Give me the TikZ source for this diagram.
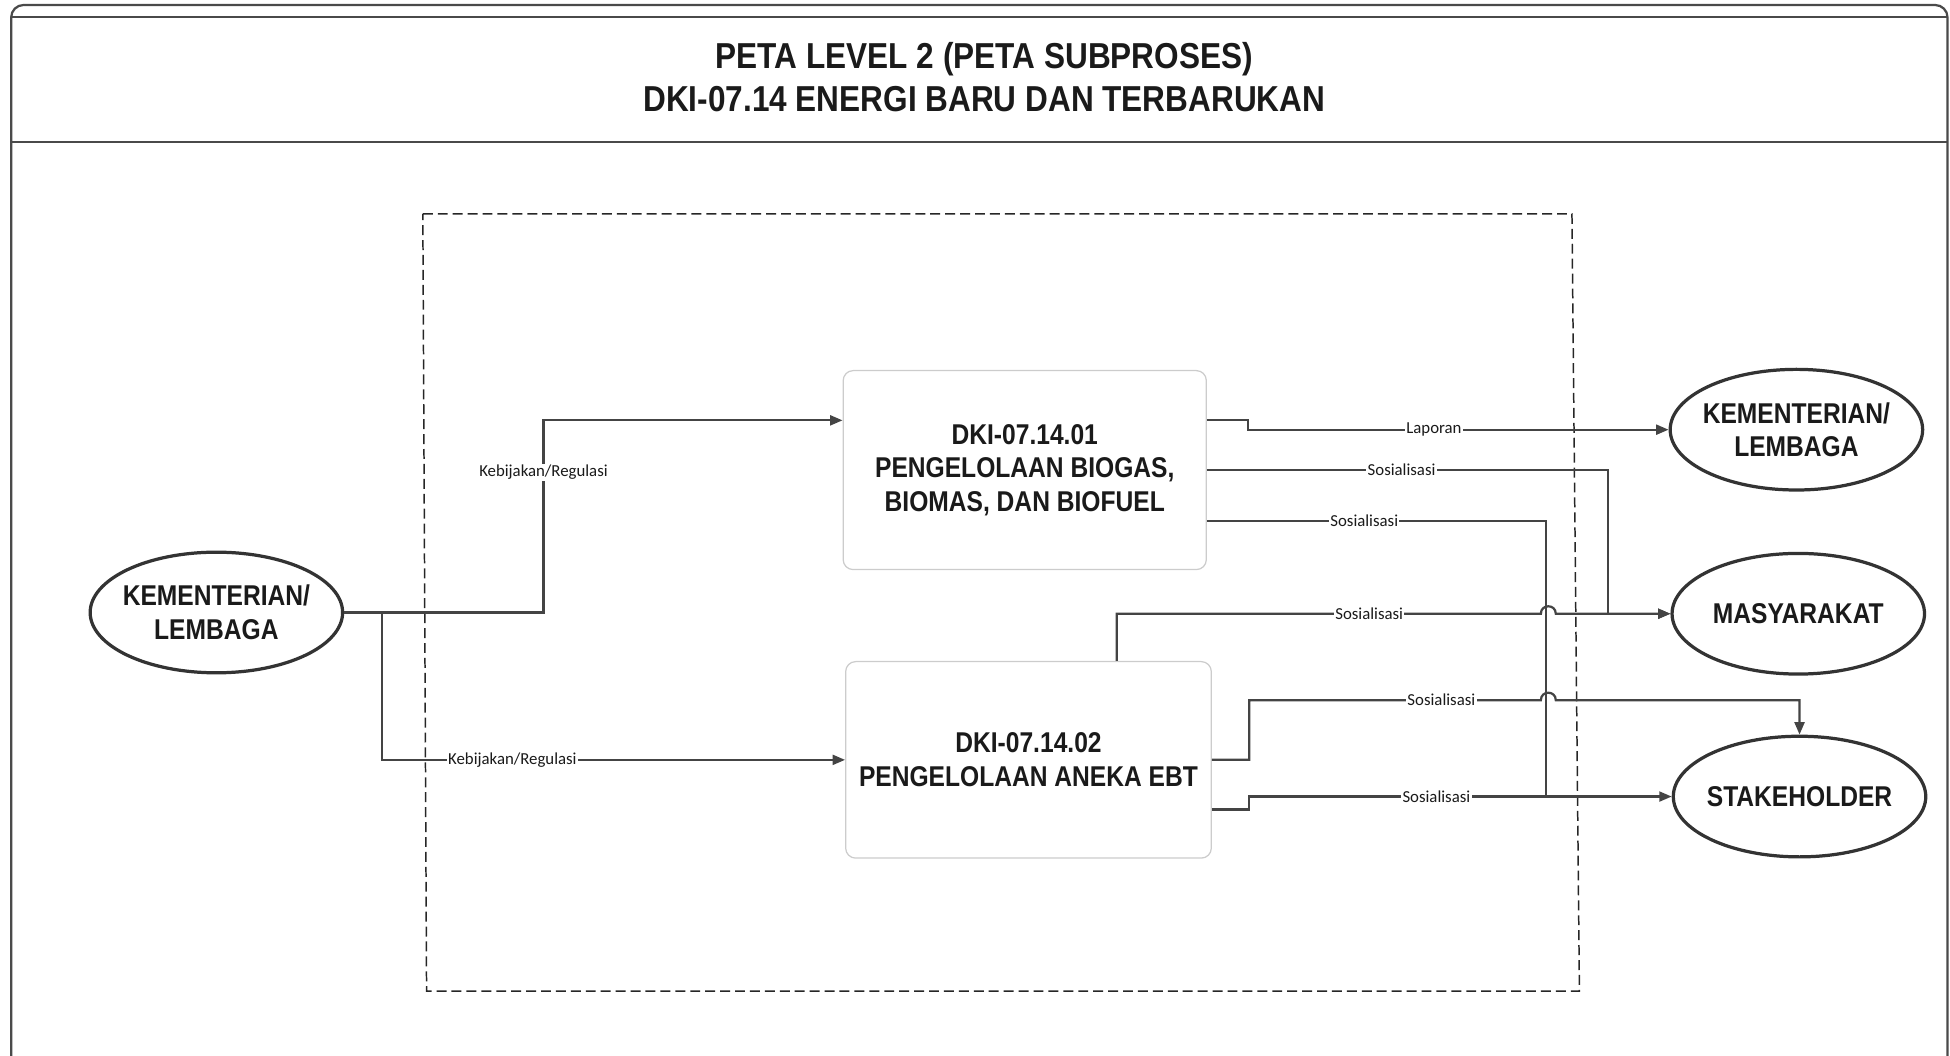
\documentclass[tikz,border=0pt]{standalone}
\usepackage{fontspec}
\setmainfont{Liberation Sans}
\newfontfamily\nodefont{Liberation Sans}[FakeStretch=0.86]
\newfontfamily\titlefont{Liberation Sans}[FakeStretch=0.875]
\newfontfamily\lblfont{Carlito}
\usetikzlibrary{shapes.geometric,arrows.meta}
\definecolor{ink}{HTML}{1A1A1A}
\definecolor{linecol}{HTML}{444444}
\definecolor{ellcol}{HTML}{333333}
\definecolor{boxcol}{HTML}{CCCCCC}
\definecolor{framecol}{HTML}{4A4A4A}
\tikzset{
  conn/.style={draw=linecol, line width=1.8pt},
  arr/.style={conn, -{Triangle[length=10pt,width=8pt]}},
  ent/.style={ellipse, draw=ellcol, line width=2.6pt, fill=white, text=ink,
    minimum width=203pt, minimum height=97pt, inner xsep=-10pt, inner ysep=0pt,
    align=center, font=\nodefont\bfseries\fontsize{23}{27}\selectfont},
  proc/.style={rectangle, rounded corners=8pt, draw=boxcol, line width=1pt, fill=white,
    text=ink, minimum width=292pt, minimum height=160pt, align=center,
    font=\nodefont\bfseries\fontsize{23}{27}\selectfont},
  lbl/.style={fill=white, inner sep=1pt, text=ink, font=\lblfont\fontsize{13.5}{15}\selectfont},
  bound/.style={draw=black!85, line width=1.2pt, dash pattern=on 8pt off 4pt}
}
\begin{document}
\begin{tikzpicture}[x=1pt,y=-1pt]
\useasboundingbox (0,0) rectangle (1568,849);
\clip (0,0) rectangle (1568,849);
% frame
\draw[framecol, line width=1.8pt, rounded corners=10pt] (9,4) rectangle (1566,862);
\draw[framecol, line width=1.5pt] (9,14) -- (1566,14);
\draw[framecol, line width=1.8pt] (9,114) -- (1566,114);
\node[text=ink, align=center, font=\titlefont\bfseries\fontsize{29}{34}\selectfont] (title) at (791.5,62)
  {PETA LEVEL 2 (PETA SUBPROSES)\\DKI-07.14 ENERGI BARU DAN TERBARUKAN};
% dashed boundary
\draw[bound] (340,172) -- (1264,172) -- (1270,797) -- (343,797) -- cycle;
% nodes
\node[ent] (kl1) at (174,492.5) {KEMENTERIAN/\\LEMBAGA};
\node[ent] (kl2) at (1444.5,345.5) {KEMENTERIAN/\\LEMBAGA};
\node[ent] (ms) at (1446,493.5) {MASYARAKAT};
\node[ent] (st) at (1447,640.5) {STAKEHOLDER};
\node[proc] (b1) at (824,378) {DKI-07.14.01\\PENGELOLAAN BIOGAS,\\BIOMAS, DAN BIOFUEL};
\node[proc, minimum width=294pt, minimum height=158pt] (b2) at (827,611) {DKI-07.14.02\\PENGELOLAAN ANEKA EBT};
% inputs
\draw[arr] (kl1.east) -| (437,338) -- ([yshift=40pt]b1.west);
\draw[arr] (kl1.east) -| (307,611) -- (b2.west);
% outputs of b1
\draw[arr] ([yshift=40pt]b1.east) -- ++(33,0) |- (kl2.west);
\draw[arr] (b1.east) -| ([xshift=-50pt]ms.west) -- (ms.west);
\draw[conn] ([yshift=-41pt]b1.east) -| ([xshift=-101pt]st.west);
% outputs of b2
\draw[arr] ([xshift=71pt]b2.north) -- (898,493.5) -- (1239,493.5)
  .. controls (1239,485.5) and (1251,485.5) .. (1251,493.5) -- (ms.west);
\draw[arr] (b2.east) -- ++(30,0) |- (1239,563)
  .. controls (1239,555) and (1251,555) .. (1251,563) -| (st.north);
\draw[arr] ([yshift=-40pt]b2.east) -- ++(30,0) |- (st.west);
% labels
\node[lbl] (lk1) at (437,380) {Kebijakan/Regulasi};
\node[lbl] (lk2) at (412,611) {Kebijakan/Regulasi};
\node[lbl] (lp) at (1153,345.5) {Laporan};
\node[lbl] (ls1) at (1127,378) {Sosialisasi};
\node[lbl] (ls2) at (1097,419) {Sosialisasi};
\node[lbl] (ls3) at (1101,493.5) {Sosialisasi};
\node[lbl] (ls4) at (1159,563) {Sosialisasi};
\node[lbl] (ls5) at (1155,640.5) {Sosialisasi};
\end{tikzpicture}
\end{document}
